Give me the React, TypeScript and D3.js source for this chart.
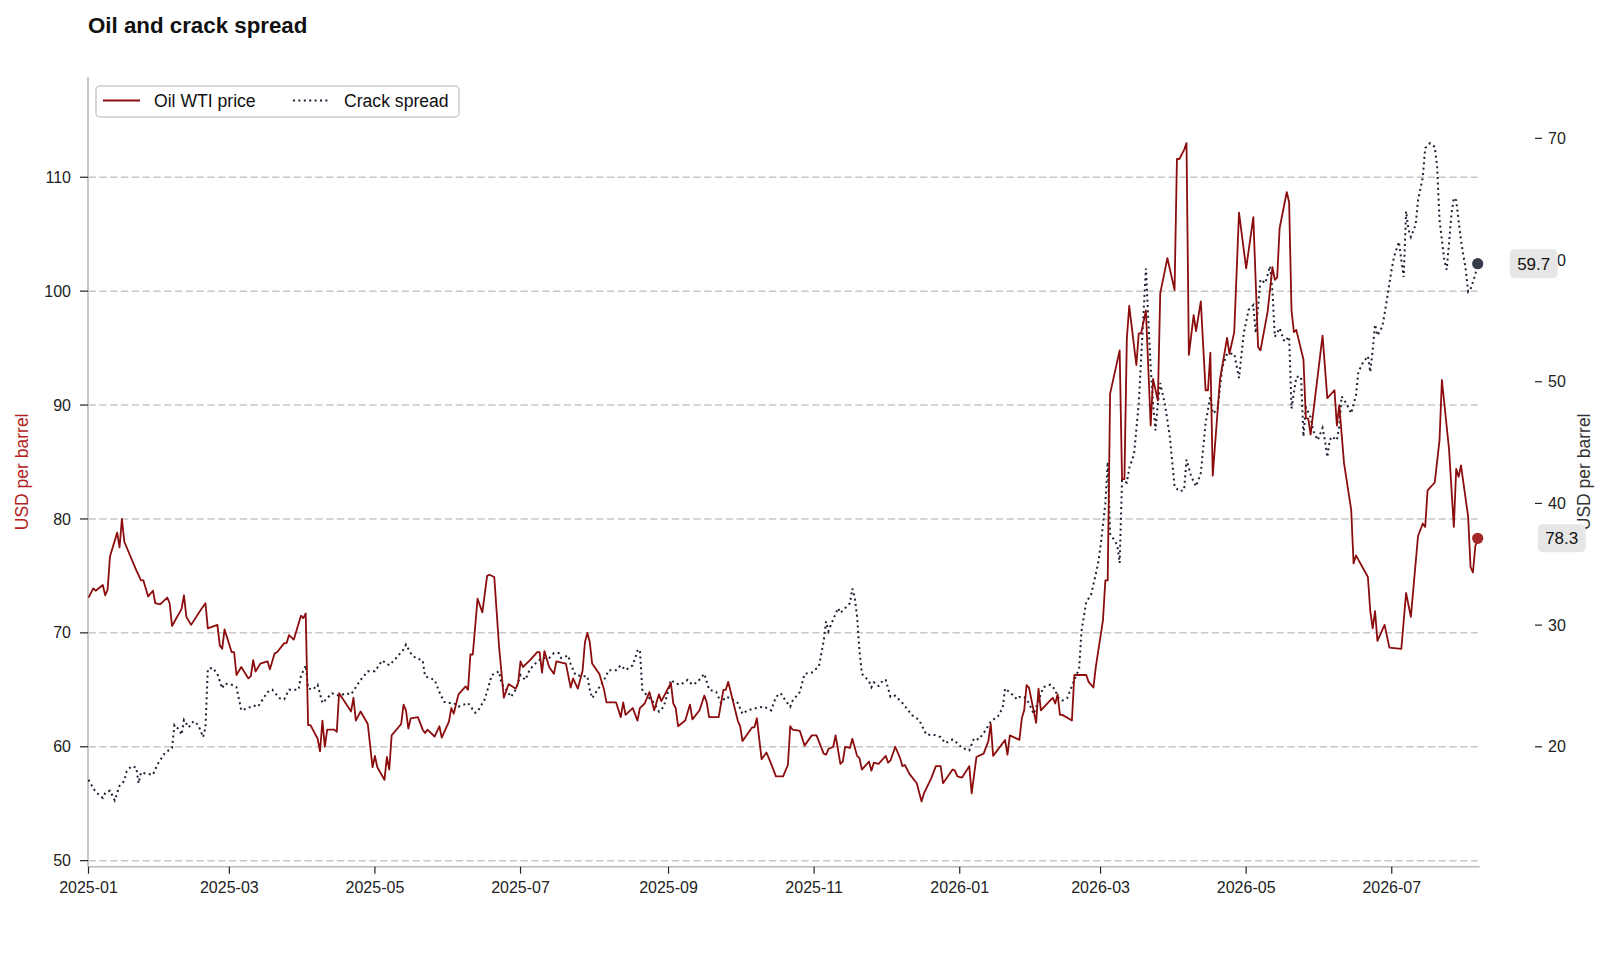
import React from "react";
import * as d3 from "d3";

// Daily values: [date, USD per barrel]
const oilWti: [string, number][] = [
  ["2025-01-01", 73.1], ["2025-01-03", 73.9], ["2025-01-04", 73.7], ["2025-01-07", 74.2],
  ["2025-01-08", 73.3], ["2025-01-09", 73.8], ["2025-01-10", 76.7], ["2025-01-13", 78.8],
  ["2025-01-14", 77.5], ["2025-01-15", 80.0], ["2025-01-16", 78.0], ["2025-01-21", 75.5],
  ["2025-01-23", 74.6], ["2025-01-24", 74.6], ["2025-01-26", 73.2], ["2025-01-28", 73.7],
  ["2025-01-29", 72.6], ["2025-01-31", 72.5], ["2025-02-03", 73.1], ["2025-02-04", 72.6],
  ["2025-02-05", 70.6], ["2025-02-09", 72.1], ["2025-02-10", 73.3], ["2025-02-11", 71.4],
  ["2025-02-13", 70.7], ["2025-02-17", 72.0], ["2025-02-19", 72.6], ["2025-02-20", 70.4],
  ["2025-02-24", 70.7], ["2025-02-25", 68.9], ["2025-02-26", 68.6], ["2025-02-27", 70.3],
  ["2025-03-02", 68.3], ["2025-03-03", 68.3], ["2025-03-04", 66.3], ["2025-03-06", 67.0],
  ["2025-03-09", 66.0], ["2025-03-10", 66.2], ["2025-03-11", 67.6], ["2025-03-12", 66.6],
  ["2025-03-14", 67.3], ["2025-03-17", 67.5], ["2025-03-18", 66.8], ["2025-03-20", 68.2],
  ["2025-03-21", 68.3], ["2025-03-24", 69.1], ["2025-03-25", 69.1], ["2025-03-26", 69.8],
  ["2025-03-28", 69.4], ["2025-03-31", 71.5], ["2025-04-01", 71.3], ["2025-04-02", 71.7],
  ["2025-04-03", 61.9], ["2025-04-04", 61.9], ["2025-04-07", 60.7], ["2025-04-08", 59.6],
  ["2025-04-09", 62.3], ["2025-04-10", 60.0], ["2025-04-11", 61.5], ["2025-04-14", 61.5],
  ["2025-04-15", 61.3], ["2025-04-16", 64.7], ["2025-04-21", 63.1], ["2025-04-22", 64.3],
  ["2025-04-23", 62.3], ["2025-04-25", 63.1], ["2025-04-28", 62.0], ["2025-04-30", 58.2],
  ["2025-05-01", 59.2], ["2025-05-02", 58.2], ["2025-05-05", 57.1], ["2025-05-06", 59.1],
  ["2025-05-07", 58.0], ["2025-05-08", 61.0], ["2025-05-12", 62.0], ["2025-05-13", 63.7],
  ["2025-05-14", 63.2], ["2025-05-15", 61.6], ["2025-05-16", 62.5], ["2025-05-19", 62.6],
  ["2025-05-21", 61.5], ["2025-05-22", 61.2], ["2025-05-23", 61.5], ["2025-05-26", 60.9],
  ["2025-05-28", 61.8], ["2025-05-29", 60.8], ["2025-06-01", 62.2], ["2025-06-02", 63.4],
  ["2025-06-03", 62.9], ["2025-06-05", 64.6], ["2025-06-08", 65.3], ["2025-06-09", 65.0],
  ["2025-06-10", 68.1], ["2025-06-11", 68.1], ["2025-06-13", 73.0], ["2025-06-15", 71.8],
  ["2025-06-17", 75.0], ["2025-06-18", 75.1], ["2025-06-20", 74.9], ["2025-06-22", 68.8],
  ["2025-06-24", 64.3], ["2025-06-26", 65.5], ["2025-06-29", 65.1], ["2025-06-30", 65.6],
  ["2025-07-01", 67.5], ["2025-07-02", 67.0], ["2025-07-05", 67.6], ["2025-07-08", 68.3],
  ["2025-07-09", 68.3], ["2025-07-10", 66.5], ["2025-07-11", 68.4], ["2025-07-13", 67.0],
  ["2025-07-15", 66.4], ["2025-07-16", 67.5], ["2025-07-20", 67.3], ["2025-07-22", 65.2],
  ["2025-07-23", 66.0], ["2025-07-25", 65.1], ["2025-07-27", 66.7], ["2025-07-28", 69.2],
  ["2025-07-29", 70.0], ["2025-07-30", 69.2], ["2025-07-31", 67.3], ["2025-08-03", 66.4],
  ["2025-08-05", 65.0], ["2025-08-06", 63.9], ["2025-08-10", 63.9], ["2025-08-12", 62.6],
  ["2025-08-13", 63.9], ["2025-08-14", 62.8], ["2025-08-17", 63.4], ["2025-08-19", 62.3],
  ["2025-08-20", 63.4], ["2025-08-22", 63.8], ["2025-08-24", 64.8], ["2025-08-26", 63.2],
  ["2025-08-28", 64.6], ["2025-08-29", 64.0], ["2025-09-02", 65.6], ["2025-09-03", 63.8],
  ["2025-09-04", 63.4], ["2025-09-05", 61.8], ["2025-09-08", 62.3], ["2025-09-10", 63.7],
  ["2025-09-11", 62.4], ["2025-09-14", 63.2], ["2025-09-16", 64.5], ["2025-09-17", 63.9],
  ["2025-09-18", 62.6], ["2025-09-22", 62.6], ["2025-09-24", 65.0], ["2025-09-25", 65.0],
  ["2025-09-26", 65.7], ["2025-09-30", 62.3], ["2025-10-01", 61.8], ["2025-10-02", 60.5],
  ["2025-10-06", 61.7], ["2025-10-07", 61.7], ["2025-10-08", 62.5], ["2025-10-10", 58.9],
  ["2025-10-12", 59.5], ["2025-10-14", 58.5], ["2025-10-16", 57.4], ["2025-10-19", 57.4],
  ["2025-10-21", 58.4], ["2025-10-22", 61.8], ["2025-10-23", 61.5], ["2025-10-26", 61.4],
  ["2025-10-28", 60.1], ["2025-10-31", 61.0], ["2025-11-02", 61.0], ["2025-11-05", 59.4],
  ["2025-11-06", 59.3], ["2025-11-07", 59.8], ["2025-11-09", 60.0], ["2025-11-10", 61.0],
  ["2025-11-12", 58.5], ["2025-11-13", 58.7], ["2025-11-14", 60.0], ["2025-11-16", 59.9],
  ["2025-11-17", 60.7], ["2025-11-19", 59.2], ["2025-11-20", 59.0], ["2025-11-21", 58.0],
  ["2025-11-24", 58.7], ["2025-11-25", 57.9], ["2025-11-26", 58.6], ["2025-11-28", 58.5],
  ["2025-12-01", 59.2], ["2025-12-02", 58.6], ["2025-12-03", 58.8], ["2025-12-05", 60.0],
  ["2025-12-07", 59.0], ["2025-12-08", 58.3], ["2025-12-09", 58.4], ["2025-12-11", 57.6],
  ["2025-12-14", 56.8], ["2025-12-16", 55.2], ["2025-12-17", 55.9], ["2025-12-20", 57.2],
  ["2025-12-22", 58.3], ["2025-12-24", 58.3], ["2025-12-25", 56.8], ["2025-12-29", 58.0],
  ["2025-12-30", 57.9], ["2025-12-31", 57.4], ["2026-01-02", 57.3], ["2026-01-05", 58.3],
  ["2026-01-06", 55.9], ["2026-01-08", 59.1], ["2026-01-11", 59.4], ["2026-01-13", 60.5],
  ["2026-01-14", 62.0], ["2026-01-15", 59.2], ["2026-01-20", 60.6], ["2026-01-21", 59.3],
  ["2026-01-22", 61.0], ["2026-01-26", 60.6], ["2026-01-27", 62.5], ["2026-01-28", 63.2],
  ["2026-01-29", 65.4], ["2026-01-30", 65.2], ["2026-02-02", 62.1], ["2026-02-03", 65.1],
  ["2026-02-04", 63.2], ["2026-02-08", 64.1], ["2026-02-09", 64.3], ["2026-02-10", 63.8],
  ["2026-02-11", 64.6], ["2026-02-12", 62.8], ["2026-02-13", 62.8], ["2026-02-17", 62.3],
  ["2026-02-18", 66.3], ["2026-02-23", 66.3], ["2026-02-24", 65.7], ["2026-02-26", 65.2],
  ["2026-02-27", 67.0], ["2026-03-02", 71.1], ["2026-03-03", 74.6], ["2026-03-04", 74.6],
  ["2026-03-05", 91.0], ["2026-03-09", 94.8], ["2026-03-10", 83.5], ["2026-03-11", 83.5],
  ["2026-03-12", 95.8], ["2026-03-13", 98.7], ["2026-03-16", 93.5], ["2026-03-17", 96.3],
  ["2026-03-18", 96.3], ["2026-03-20", 98.3], ["2026-03-22", 88.2], ["2026-03-23", 92.3],
  ["2026-03-25", 90.4], ["2026-03-26", 99.8], ["2026-03-29", 102.9], ["2026-04-01", 100.1],
  ["2026-04-02", 111.6], ["2026-04-03", 111.6], ["2026-04-05", 112.4], ["2026-04-06", 113.0],
  ["2026-04-07", 94.4], ["2026-04-09", 97.9], ["2026-04-10", 96.5], ["2026-04-12", 99.1],
  ["2026-04-14", 91.3], ["2026-04-15", 91.3], ["2026-04-16", 94.6], ["2026-04-17", 83.8],
  ["2026-04-20", 92.2], ["2026-04-23", 95.9], ["2026-04-24", 94.5], ["2026-04-26", 96.4],
  ["2026-04-28", 106.9], ["2026-05-01", 102.0], ["2026-05-04", 106.5], ["2026-05-06", 95.1],
  ["2026-05-07", 94.8], ["2026-05-10", 98.2], ["2026-05-12", 102.1], ["2026-05-13", 101.0],
  ["2026-05-14", 101.2], ["2026-05-15", 105.5], ["2026-05-18", 108.7], ["2026-05-19", 107.8],
  ["2026-05-20", 98.3], ["2026-05-21", 96.4], ["2026-05-22", 96.6], ["2026-05-25", 94.0],
  ["2026-05-26", 88.9], ["2026-05-27", 88.8], ["2026-05-28", 87.4], ["2026-06-02", 96.1],
  ["2026-06-04", 90.6], ["2026-06-07", 91.3], ["2026-06-08", 88.2], ["2026-06-09", 90.0],
  ["2026-06-11", 84.9], ["2026-06-14", 80.8], ["2026-06-15", 76.1], ["2026-06-16", 76.8],
  ["2026-06-21", 74.9], ["2026-06-22", 71.9], ["2026-06-23", 70.4], ["2026-06-24", 71.9],
  ["2026-06-25", 69.3], ["2026-06-28", 70.7], ["2026-06-30", 68.7], ["2026-07-05", 68.6],
  ["2026-07-07", 73.5], ["2026-07-09", 71.4], ["2026-07-12", 78.5], ["2026-07-14", 79.6],
  ["2026-07-15", 79.3], ["2026-07-16", 82.5], ["2026-07-19", 83.2], ["2026-07-21", 86.9],
  ["2026-07-22", 92.2], ["2026-07-25", 86.1], ["2026-07-27", 79.3], ["2026-07-28", 84.4],
  ["2026-07-29", 83.7], ["2026-07-30", 84.7], ["2026-08-02", 80.2], ["2026-08-03", 75.8],
  ["2026-08-04", 75.3], ["2026-08-05", 77.6], ["2026-08-06", 78.3],
];

const crackSpread: [string, number][] = [
  ["2025-01-01", 17.3], ["2025-01-03", 16.6], ["2025-01-04", 16.3], ["2025-01-07", 15.8],
  ["2025-01-08", 16.2], ["2025-01-10", 16.4], ["2025-01-11", 16.0], ["2025-01-12", 15.6],
  ["2025-01-14", 16.8], ["2025-01-16", 17.2], ["2025-01-17", 18.0], ["2025-01-19", 18.4],
  ["2025-01-21", 18.3], ["2025-01-22", 17.0], ["2025-01-23", 17.9], ["2025-01-25", 17.8],
  ["2025-01-28", 17.7], ["2025-01-30", 18.6], ["2025-02-02", 19.5], ["2025-02-05", 19.9],
  ["2025-02-06", 21.8], ["2025-02-08", 21.4], ["2025-02-09", 21.0], ["2025-02-10", 22.2],
  ["2025-02-12", 21.6], ["2025-02-14", 22.1], ["2025-02-16", 21.8], ["2025-02-18", 20.8],
  ["2025-02-19", 21.6], ["2025-02-20", 26.4], ["2025-02-22", 26.5], ["2025-02-24", 26.0],
  ["2025-02-26", 24.8], ["2025-02-27", 25.2], ["2025-03-02", 25.1], ["2025-03-04", 24.9],
  ["2025-03-06", 23.0], ["2025-03-09", 23.2], ["2025-03-11", 23.4], ["2025-03-13", 23.3],
  ["2025-03-17", 24.5], ["2025-03-19", 24.7], ["2025-03-22", 24.0], ["2025-03-24", 23.9],
  ["2025-03-26", 24.7], ["2025-03-30", 24.7], ["2025-03-31", 25.8], ["2025-04-02", 26.7],
  ["2025-04-03", 24.8], ["2025-04-05", 24.7], ["2025-04-07", 25.1], ["2025-04-09", 23.6],
  ["2025-04-13", 24.4], ["2025-04-16", 24.2], ["2025-04-19", 24.4], ["2025-04-21", 24.3],
  ["2025-04-25", 25.5], ["2025-04-28", 26.2], ["2025-05-01", 26.2], ["2025-05-04", 27.1],
  ["2025-05-07", 26.7], ["2025-05-09", 27.1], ["2025-05-13", 28.0], ["2025-05-14", 28.4],
  ["2025-05-16", 27.7], ["2025-05-18", 27.3], ["2025-05-21", 27.1], ["2025-05-22", 25.8],
  ["2025-05-26", 25.5], ["2025-05-28", 24.5], ["2025-05-30", 23.7], ["2025-05-31", 23.6],
  ["2025-06-03", 23.6], ["2025-06-05", 23.3], ["2025-06-09", 23.6], ["2025-06-12", 22.8],
  ["2025-06-13", 22.9], ["2025-06-16", 23.9], ["2025-06-19", 25.9], ["2025-06-22", 26.2],
  ["2025-06-23", 25.2], ["2025-06-25", 24.7], ["2025-06-27", 24.1], ["2025-06-29", 24.7],
  ["2025-07-01", 25.9], ["2025-07-03", 25.5], ["2025-07-05", 26.4], ["2025-07-08", 27.0],
  ["2025-07-10", 27.3], ["2025-07-13", 27.3], ["2025-07-15", 27.7], ["2025-07-17", 27.7],
  ["2025-07-18", 27.3], ["2025-07-21", 27.5], ["2025-07-22", 26.8], ["2025-07-24", 25.9],
  ["2025-07-27", 25.8], ["2025-07-29", 25.8], ["2025-07-30", 24.7], ["2025-07-31", 24.0],
  ["2025-08-03", 24.9], ["2025-08-05", 25.5], ["2025-08-07", 26.3], ["2025-08-10", 26.3],
  ["2025-08-12", 26.7], ["2025-08-14", 26.3], ["2025-08-17", 26.7], ["2025-08-19", 27.9],
  ["2025-08-20", 28.0], ["2025-08-21", 24.7], ["2025-08-23", 24.2], ["2025-08-26", 23.6],
  ["2025-08-28", 22.9], ["2025-08-30", 23.3], ["2025-09-01", 24.7], ["2025-09-02", 25.5],
  ["2025-09-04", 25.2], ["2025-09-06", 25.1], ["2025-09-09", 25.5], ["2025-09-11", 25.1],
  ["2025-09-13", 25.3], ["2025-09-16", 26.0], ["2025-09-18", 24.7], ["2025-09-21", 24.5],
  ["2025-09-23", 23.6], ["2025-09-25", 24.1], ["2025-09-27", 24.0], ["2025-09-30", 23.6],
  ["2025-10-02", 22.7], ["2025-10-04", 23.0], ["2025-10-08", 23.2], ["2025-10-11", 23.3],
  ["2025-10-14", 23.0], ["2025-10-16", 24.1], ["2025-10-18", 24.4], ["2025-10-20", 23.8],
  ["2025-10-22", 23.3], ["2025-10-23", 23.8], ["2025-10-26", 24.5], ["2025-10-28", 26.0],
  ["2025-10-31", 26.1], ["2025-11-03", 26.6], ["2025-11-05", 28.7], ["2025-11-06", 30.3],
  ["2025-11-07", 29.5], ["2025-11-08", 30.0], ["2025-11-11", 31.4], ["2025-11-12", 31.0],
  ["2025-11-15", 31.6], ["2025-11-16", 31.8], ["2025-11-17", 33.0], ["2025-11-18", 32.3],
  ["2025-11-19", 30.7], ["2025-11-20", 27.9], ["2025-11-21", 26.0], ["2025-11-24", 25.4],
  ["2025-11-25", 24.9], ["2025-11-26", 25.3], ["2025-11-28", 25.0], ["2025-11-30", 25.5],
  ["2025-12-01", 25.5], ["2025-12-03", 24.1], ["2025-12-05", 24.2], ["2025-12-08", 23.6],
  ["2025-12-12", 22.6], ["2025-12-15", 22.2], ["2025-12-18", 21.0], ["2025-12-21", 21.0],
  ["2025-12-24", 20.8], ["2025-12-26", 20.3], ["2025-12-29", 20.6], ["2025-12-31", 20.3],
  ["2026-01-02", 19.9], ["2026-01-05", 19.7], ["2026-01-07", 20.7], ["2026-01-09", 20.6],
  ["2026-01-12", 21.4], ["2026-01-14", 22.1], ["2026-01-17", 22.5], ["2026-01-19", 23.2],
  ["2026-01-20", 24.8], ["2026-01-23", 24.3], ["2026-01-25", 23.9], ["2026-01-26", 24.1],
  ["2026-01-28", 24.1], ["2026-01-30", 23.6], ["2026-02-01", 22.7], ["2026-02-03", 23.8],
  ["2026-02-05", 24.9], ["2026-02-08", 25.1], ["2026-02-10", 24.7], ["2026-02-11", 24.1],
  ["2026-02-13", 23.8], ["2026-02-15", 24.0], ["2026-02-18", 25.5], ["2026-02-20", 26.4],
  ["2026-02-21", 29.5], ["2026-02-23", 31.9], ["2026-02-25", 32.5], ["2026-02-27", 34.2],
  ["2026-02-28", 35.1], ["2026-03-01", 36.5], ["2026-03-03", 40.0], ["2026-03-04", 43.4],
  ["2026-03-05", 37.5], ["2026-03-07", 36.9], ["2026-03-08", 36.6], ["2026-03-09", 35.1],
  ["2026-03-10", 41.9], ["2026-03-12", 41.7], ["2026-03-13", 42.9], ["2026-03-15", 44.0],
  ["2026-03-17", 48.2], ["2026-03-19", 55.6], ["2026-03-20", 59.3], ["2026-03-21", 55.1],
  ["2026-03-22", 51.2], ["2026-03-23", 48.2], ["2026-03-24", 46.0], ["2026-03-25", 48.2],
  ["2026-03-26", 49.9], ["2026-03-28", 48.1], ["2026-03-30", 45.5], ["2026-04-01", 41.4],
  ["2026-04-03", 41.0], ["2026-04-05", 41.1], ["2026-04-06", 43.6], ["2026-04-08", 42.2],
  ["2026-04-10", 41.4], ["2026-04-12", 42.5], ["2026-04-14", 46.6], ["2026-04-16", 48.8],
  ["2026-04-17", 47.4], ["2026-04-19", 47.7], ["2026-04-21", 51.2], ["2026-04-23", 52.3],
  ["2026-04-26", 52.3], ["2026-04-28", 50.3], ["2026-04-30", 54.0], ["2026-05-02", 55.9],
  ["2026-05-04", 56.3], ["2026-05-05", 54.0], ["2026-05-07", 58.4], ["2026-05-09", 58.1],
  ["2026-05-11", 59.5], ["2026-05-12", 57.5], ["2026-05-13", 53.7], ["2026-05-15", 54.4],
  ["2026-05-17", 53.3], ["2026-05-19", 53.7], ["2026-05-20", 47.8], ["2026-05-22", 50.4],
  ["2026-05-24", 50.4], ["2026-05-25", 45.5], ["2026-05-26", 47.9], ["2026-05-28", 47.1],
  ["2026-05-29", 46.0], ["2026-05-31", 45.2], ["2026-06-02", 46.2], ["2026-06-03", 45.2],
  ["2026-06-04", 43.8], ["2026-06-05", 45.2], ["2026-06-06", 45.5], ["2026-06-08", 45.2],
  ["2026-06-09", 46.3], ["2026-06-10", 48.8], ["2026-06-12", 48.2], ["2026-06-13", 47.8],
  ["2026-06-14", 47.4], ["2026-06-16", 48.9], ["2026-06-17", 50.8], ["2026-06-19", 51.6],
  ["2026-06-21", 52.1], ["2026-06-22", 50.8], ["2026-06-23", 52.6], ["2026-06-24", 54.7],
  ["2026-06-25", 53.8], ["2026-06-27", 54.5], ["2026-06-28", 55.6], ["2026-06-29", 56.8],
  ["2026-07-01", 59.3], ["2026-07-02", 60.3], ["2026-07-04", 61.5], ["2026-07-05", 60.0],
  ["2026-07-06", 58.6], ["2026-07-07", 64.0], ["2026-07-08", 62.5], ["2026-07-09", 61.9],
  ["2026-07-11", 62.9], ["2026-07-12", 64.9], ["2026-07-14", 66.8], ["2026-07-15", 69.2],
  ["2026-07-17", 69.6], ["2026-07-19", 69.3], ["2026-07-20", 67.7], ["2026-07-21", 63.3],
  ["2026-07-23", 60.0], ["2026-07-24", 59.2], ["2026-07-25", 61.4], ["2026-07-26", 63.8],
  ["2026-07-27", 65.1], ["2026-07-28", 64.9], ["2026-07-30", 61.6], ["2026-08-01", 59.2],
  ["2026-08-02", 57.4], ["2026-08-03", 57.6], ["2026-08-05", 58.8], ["2026-08-06", 59.7],
];

const xTickLabels = [
  "2025-01", "2025-03", "2025-05", "2025-07", "2025-09",
  "2025-11", "2026-01", "2026-03", "2026-05", "2026-07",
];
const leftTicks = [50, 60, 70, 80, 90, 100, 110];
const rightTicks = [20, 30, 40, 50, 60, 70];

const FONT = "'Liberation Sans', Arial, Helvetica, sans-serif";
const OIL_COLOR = "#8c0d0d";
const CRACK_COLOR = "#1c2233";

const width = 1612;
const height = 962;

const plot = { left: 88.5, right: 1477.7, top: 77, bottom: 866.7 };
const rightAxisX = 1542;

const parse = (s: string) => new Date(s.length === 7 ? `${s}-01T00:00:00Z` : `${s}T00:00:00Z`);

const App: React.FC = () => {
  const x = d3
    .scaleUtc()
    .domain([parse(oilWti[0][0]), parse(oilWti[oilWti.length - 1][0])])
    .range([plot.left, plot.right]);

  const yLeft = d3.scaleLinear().domain([49.47, 118.8]).range([plot.bottom, plot.top]);
  const yRight = d3.scaleLinear().domain([10.15, 75.04]).range([plot.bottom, plot.top]);

  const oilLine = d3
    .line<[string, number]>()
    .x((d) => x(parse(d[0])))
    .y((d) => yLeft(d[1]));

  const crackLine = d3
    .line<[string, number]>()
    .x((d) => x(parse(d[0])))
    .y((d) => yRight(d[1]));

  const lastOil = oilWti[oilWti.length - 1];
  const lastCrack = crackSpread[crackSpread.length - 1];
  const oilEnd = { x: x(parse(lastOil[0])), y: yLeft(lastOil[1]) };
  const crackEnd = { x: x(parse(lastCrack[0])), y: yRight(lastCrack[1]) };

  return (
    <svg
      width={width}
      height={height}
      style={{ position: "absolute", left: 0, top: 0, display: "block", background: "#fff" }}
      fontFamily={FONT}
    >
      {/* Title */}
      <text x={88} y={33} fontSize={22.3} fontWeight="bold" fill="#111">
        Oil and crack spread
      </text>

      {/* Grid lines */}
      {leftTicks.map((t) => (
        <line
          key={`g${t}`}
          x1={plot.left}
          x2={plot.right}
          y1={yLeft(t)}
          y2={yLeft(t)}
          stroke="#c8c8c8"
          strokeWidth={1.5}
          strokeDasharray="7.4,3.4"
        />
      ))}

      {/* Spines */}
      <line x1={88} x2={88} y1={plot.top} y2={plot.bottom} stroke="#b8b8b8" strokeWidth={1.6} />
      <line x1={88} x2={plot.right + 2} y1={plot.bottom} y2={plot.bottom} stroke="#b8b8b8" strokeWidth={1.6} />

      {/* Left axis */}
      {leftTicks.map((t) => (
        <g key={`l${t}`} transform={`translate(0,${yLeft(t)})`}>
          <line x1={80} x2={88} stroke="#222" strokeWidth={1.2} />
          <text x={71} dy="0.35em" textAnchor="end" fontSize={16} fill="#222">
            {t}
          </text>
        </g>
      ))}
      <text
        transform={`translate(27.5,${(plot.top + plot.bottom) / 2}) rotate(-90)`}
        textAnchor="middle"
        fontSize={17.5}
        fill="#b22222"
      >
        USD per barrel
      </text>

      {/* Bottom axis */}
      {xTickLabels.map((t) => (
        <g key={`x${t}`} transform={`translate(${x(parse(t))},0)`}>
          <line y1={plot.bottom} y2={plot.bottom + 7} stroke="#222" strokeWidth={1.2} />
          <text y={893} textAnchor="middle" fontSize={16} fill="#222">
            {t}
          </text>
        </g>
      ))}

      {/* Right axis */}
      {rightTicks.map((t) => (
        <g key={`r${t}`} transform={`translate(0,${yRight(t)})`}>
          <line x1={rightAxisX - 7} x2={rightAxisX} stroke="#222" strokeWidth={1.2} />
          <text x={1548} dy="0.35em" fontSize={16} fill="#222">
            {t}
          </text>
        </g>
      ))}
      <text
        transform={`translate(1590,${(plot.top + plot.bottom) / 2}) rotate(-90)`}
        textAnchor="middle"
        fontSize={17.5}
        fill="#333"
      >
        USD per barrel
      </text>

      {/* Series */}
      <path
        d={crackLine(crackSpread) ?? ""}
        fill="none"
        stroke={CRACK_COLOR}
        strokeWidth={2}
        strokeDasharray="2,3.4"
      />
      <path
        d={oilLine(oilWti) ?? ""}
        fill="none"
        stroke={OIL_COLOR}
        strokeWidth={1.8}
        strokeLinejoin="round"
      />

      {/* End markers and value labels */}
      <circle cx={crackEnd.x} cy={crackEnd.y} r={5.6} fill="#343b4b" />
      <circle cx={oilEnd.x} cy={oilEnd.y} r={5.6} fill="#a3282a" />

      <g transform={`translate(${crackEnd.x + 32},${crackEnd.y})`}>
        <rect x={0} y={-14.5} width={48} height={29} rx={5} fill="#e6e6e6" />
        <text x={24} dy="0.35em" textAnchor="middle" fontSize={17} fill="#111">
          {lastCrack[1].toFixed(1)}
        </text>
      </g>
      <g transform={`translate(${oilEnd.x + 60},${oilEnd.y})`}>
        <rect x={0} y={-14} width={48} height={28} rx={5} fill="#e6e6e6" />
        <text x={24} dy="0.35em" textAnchor="middle" fontSize={17} fill="#111">
          {lastOil[1].toFixed(1)}
        </text>
      </g>

      {/* Legend */}
      <rect x={96} y={86} width={363} height={31} rx={4} fill="#fff" fillOpacity={0.85} stroke="#cccccc" strokeWidth={1.5} />
      <line x1={103} x2={140} y1={100.5} y2={100.5} stroke={OIL_COLOR} strokeWidth={1.8} />
      <text x={154} y={106.5} fontSize={17.6} fill="#111">
        Oil WTI price
      </text>
      <line x1={293} x2={330} y1={100.5} y2={100.5} stroke={CRACK_COLOR} strokeWidth={2} strokeDasharray="2,3.4" />
      <text x={344} y={106.5} fontSize={17.6} fill="#111">
        Crack spread
      </text>
    </svg>
  );
};

export default App;
